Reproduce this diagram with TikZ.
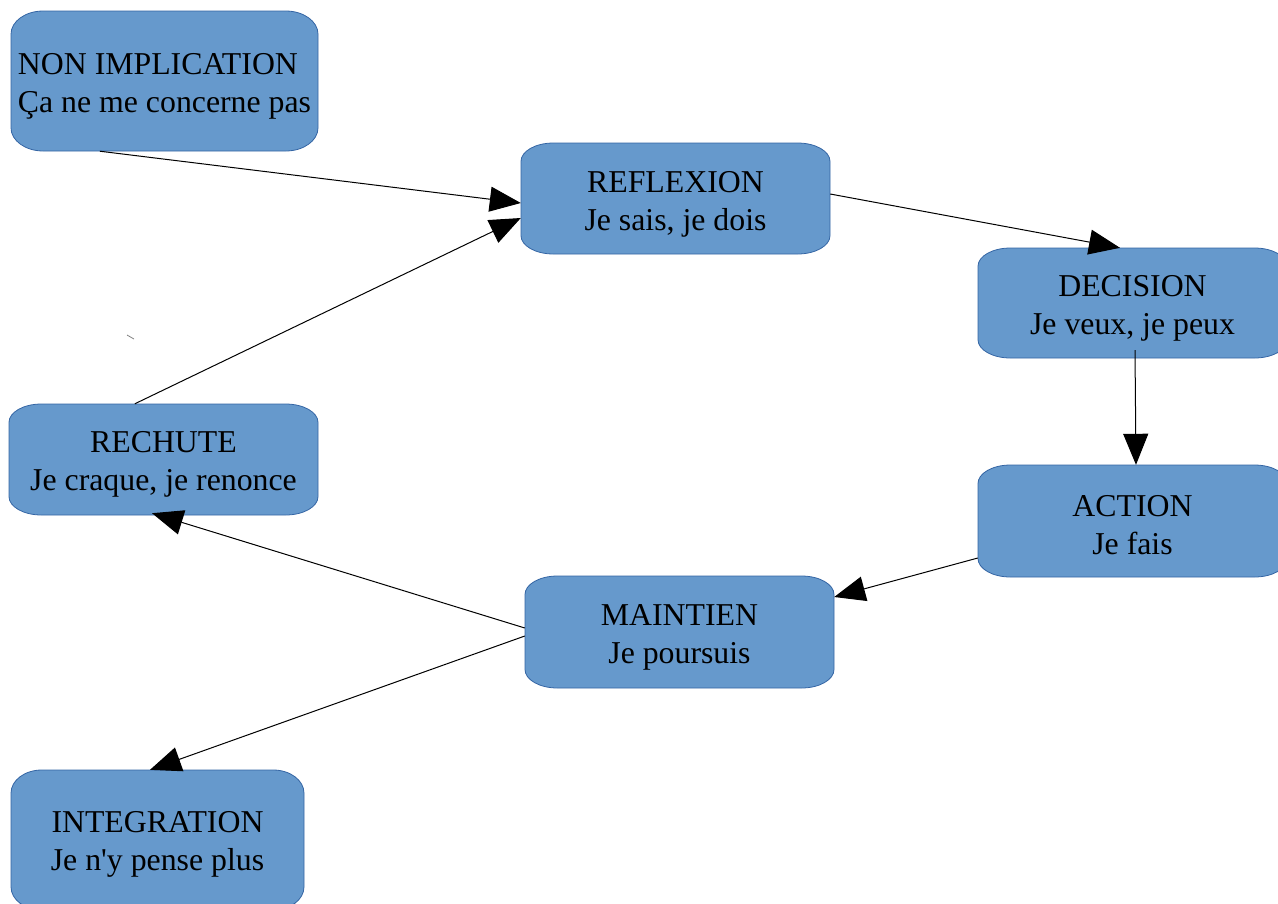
\documentclass[tikz,border=0pt]{standalone}
\usepackage{fontspec}
\setmainfont{Liberation Serif}
\usetikzlibrary{arrows.meta,backgrounds}
\definecolor{boxfill}{HTML}{6699CC}
\definecolor{boxline}{HTML}{3465A4}
\tikzset{
  lbl/.style={inner sep=0pt, align=center, font=\fontsize{31.8}{38}\selectfont, text=black},
  conn/.style={line width=1pt, -{Triangle[length=31pt,width=25pt]}},
  eboxstyle/.style={fill=boxfill, draw=boxline, line width=0.8pt},
  anchorbox/.style={inner sep=0pt, draw=none}
}
% elliptical-corner box: #1 x1, #2 y1, #3 x2, #4 y2
\newcommand\eboxdraw[4]{%
  \pgfmathsetmacro\rx{0.105*(#3-#1)}%
  \pgfmathsetmacro\ry{0.165*(#4-#2)}%
  \path[eboxstyle] (#1+\rx,#2) -- (#3-\rx,#2)
    arc[start angle=90,end angle=0,x radius=\rx,y radius=-\ry]
    -- (#3,#4-\ry)
    arc[start angle=0,end angle=-90,x radius=\rx,y radius=-\ry]
    -- (#1+\rx,#4)
    arc[start angle=-90,end angle=-180,x radius=\rx,y radius=-\ry]
    -- (#1,#2+\ry)
    arc[start angle=180,end angle=90,x radius=\rx,y radius=-\ry]
    -- cycle;%
}
\begin{document}
\begin{tikzpicture}[x=1pt,y=-1pt]
\useasboundingbox (0,0) rectangle (1278,903);
% boxes (as rectangle nodes for anchors)
\node[anchorbox, minimum width=307pt, minimum height=140pt] (nonimp) at (164.5,81) {};
\node[anchorbox, minimum width=309pt, minimum height=111pt] (reflex) at (675.5,198.5) {};
\node[anchorbox, minimum width=309pt, minimum height=110pt] (decis) at (1132.5,303) {};
\node[anchorbox, minimum width=309pt, minimum height=112pt] (action) at (1132.5,521) {};
\node[anchorbox, minimum width=309pt, minimum height=112pt] (maint) at (679.5,632) {};
\node[anchorbox, minimum width=309pt, minimum height=111pt] (rechute) at (163.5,459.5) {};
\node[anchorbox, minimum width=293pt, minimum height=140pt] (integ) at (157.5,840) {};
\eboxdraw{11}{11}{318}{151}
\eboxdraw{521}{143}{830}{254}
\eboxdraw{978}{248}{1287}{358}
\eboxdraw{978}{465}{1287}{577}
\eboxdraw{525}{576}{834}{688}
\eboxdraw{9}{404}{318}{515}
\eboxdraw{11}{770}{304}{910}
% labels
\node[lbl, align=left] (tnonimp) at (164.5,86) {NON IMPLICATION\\Ça ne me concerne pas};
\node[lbl] (treflex) at (675.5,204) {REFLEXION\\Je sais, je dois};
\node[lbl] (tdecis) at (1132.5,308.5) {DECISION\\Je veux, je peux};
\node[lbl] (taction) at (1132.5,525) {ACTION\\Je fais};
\node[lbl] (tmaint) at (679.5,637) {MAINTIEN\\Je poursuis};
\node[lbl] (trechute) at (163.5,464) {RECHUTE\\Je craque, je renonce};
\node[lbl] (tinteg) at (157.5,844.5) {INTEGRATION\\Je n\textquotesingle y pense plus};
% connectors
\draw[conn] ([xshift=89pt]nonimp.south west) -- ([yshift=-4.5pt]reflex.west);
\draw[conn] ([xshift=126pt]rechute.north west) -- ([yshift=-19.5pt]reflex.west);
\draw[conn] ([yshift=4.5pt]reflex.east) -- ([xshift=-12.5pt]decis.north);
\draw[conn] ([xshift=2.5pt,yshift=8pt]decis.south) -- ([xshift=3.5pt]action.north);
\draw[conn] ([yshift=-37pt]action.west) -- ([yshift=35pt]maint.east);
\draw[conn] ([yshift=4pt]maint.west) -- ([xshift=-11.5pt,yshift=2pt]rechute.south);
\draw[conn] ([yshift=-4pt]maint.west) -- ([xshift=-7.5pt]integ.north);
% stray mark
\coordinate (m1) at (127,335);
\coordinate (m2) at (134,339);
\draw[gray, line width=0.8pt] (m1) -- (m2);
\end{tikzpicture}
\end{document}
